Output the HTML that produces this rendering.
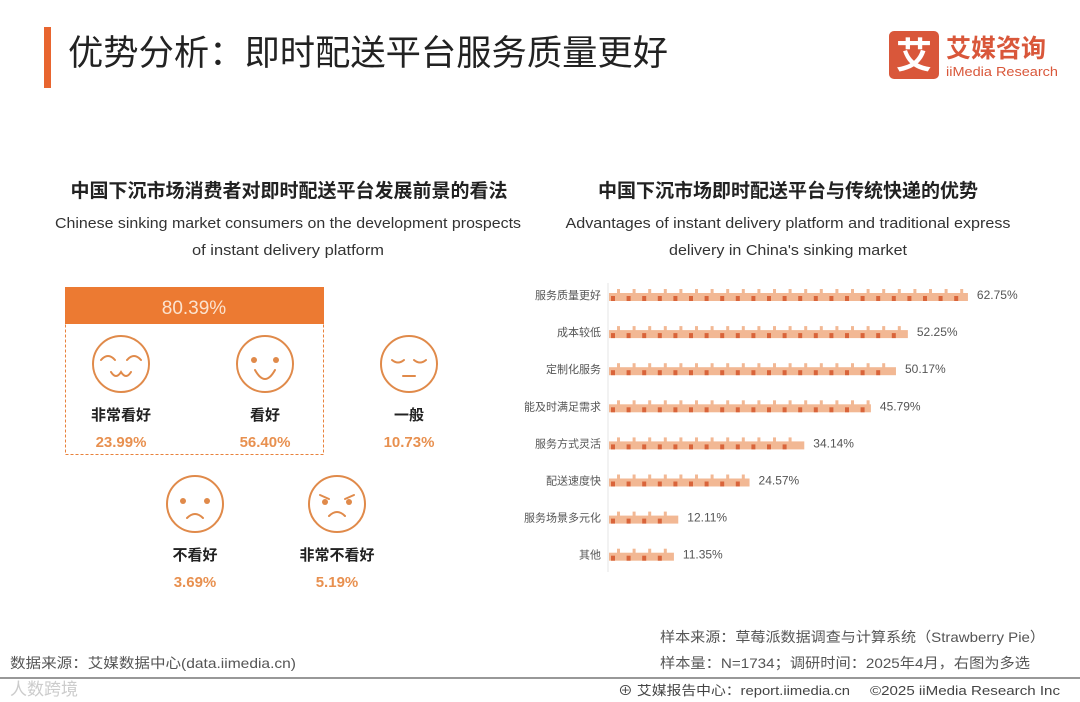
<!DOCTYPE html>
<html><head><meta charset="utf-8">
<style>
html,body{margin:0;padding:0;background:#fff;}
svg{display:block;font-family:"Liberation Sans","Noto Sans CJK SC",sans-serif;}
</style></head>
<body>
<svg id="chart" width="1080" height="702" viewBox="0 0 1080 702" xmlns="http://www.w3.org/2000/svg">
<rect x="44" y="27" width="7" height="61" fill="#e8652f"/>
<text x="68" y="65" font-size="35" fill="#222" textLength="600" lengthAdjust="spacingAndGlyphs">优势分析：即时配送平台服务质量更好</text>
<g>
<rect x="889" y="31" width="50" height="48" rx="5" fill="#d9573a"/>
<text x="914" y="68" font-size="36" font-weight="bold" fill="#fff" text-anchor="middle">艾</text>
<text x="946" y="57" font-size="25" font-weight="bold" fill="#d9573a">艾媒咨询</text>
<text x="946" y="76" font-size="13" fill="#d9573a" textLength="112" lengthAdjust="spacingAndGlyphs">iiMedia Research</text>
</g>
<text x="289" y="197" font-size="19" font-weight="bold" fill="#222" text-anchor="middle">中国下沉市场消费者对即时配送平台发展前景的看法</text>
<text x="288" y="228" font-size="15" fill="#333" text-anchor="middle" textLength="466" lengthAdjust="spacingAndGlyphs">Chinese sinking market consumers on the development prospects</text>
<text x="288" y="255" font-size="15" fill="#333" text-anchor="middle" textLength="192" lengthAdjust="spacingAndGlyphs">of instant delivery platform</text>
<text x="788" y="197" font-size="19" font-weight="bold" fill="#222" text-anchor="middle">中国下沉市场即时配送平台与传统快递的优势</text>
<text x="788" y="228" font-size="15" fill="#333" text-anchor="middle" textLength="445" lengthAdjust="spacingAndGlyphs">Advantages of instant delivery platform and traditional express</text>
<text x="788" y="255" font-size="15" fill="#333" text-anchor="middle" textLength="238" lengthAdjust="spacingAndGlyphs">delivery in China's sinking market</text>

<g>
<rect x="65.5" y="287.5" width="258" height="167" fill="none" stroke="#e8823c" stroke-dasharray="3,2"/>
<rect x="65" y="287" width="259" height="37" fill="#ec7a32"/>
<text x="194" y="314" font-size="19" fill="#fbe3cf" text-anchor="middle">80.39%</text>
</g>
<g id="faces"></g>
<g id="bars"></g>
<line x1="608" y1="283" x2="608" y2="572" stroke="#e6e6e6"/>

<g fill="#555">
<text x="660" y="642" font-size="14" textLength="385" lengthAdjust="spacingAndGlyphs">样本来源：草莓派数据调查与计算系统（Strawberry Pie）</text>
<text x="660" y="668" font-size="14" textLength="370" lengthAdjust="spacingAndGlyphs">样本量：N=1734；调研时间：2025年4月，右图为多选</text>
<text x="10" y="668" font-size="14" textLength="286" lengthAdjust="spacingAndGlyphs">数据来源：艾媒数据中心(data.iimedia.cn)</text>
<line x1="0" y1="678" x2="1080" y2="678" stroke="#777" stroke-width="1.5"/>
<text x="10" y="695" font-size="17" fill="#ccc">人数跨境</text>
<text x="618" y="695" font-size="13" fill="#444" textLength="232" lengthAdjust="spacingAndGlyphs">⊕ 艾媒报告中心：report.iimedia.cn</text>
<text x="870" y="695" font-size="13" fill="#444" textLength="190" lengthAdjust="spacingAndGlyphs">©2025  iiMedia Research  Inc</text>
</g>
</svg>
<script>
const ns="http://www.w3.org/2000/svg";
// Right chart data
const categories=["服务质量更好","成本较低","定制化服务","能及时满足需求","服务方式灵活","配送速度快","服务场景多元化","其他"];
const values=[62.75,52.25,50.17,45.79,34.14,24.57,12.11,11.35];
// Left chart data
const faceLabels=["非常看好","看好","一般","不看好","非常不看好"];
const faceValues=[23.99,56.40,10.73,3.69,5.19];

const x0=609, pxPer=5.72, yTop=295, rowStep=37.1;
const xs=v=>x0+v*pxPer;
const ys=i=>yTop+i*rowStep;
const bars=document.getElementById('bars');
function mk(tag,attrs,parent){const e=document.createElementNS(ns,tag);for(const k in attrs)e.setAttribute(k,attrs[k]);parent.appendChild(e);return e;}
categories.forEach((c,i)=>{
  const y=ys(i);
  const lab=mk('text',{x:601,y:y+4,'font-size':11,fill:'#555','text-anchor':'end'},bars);
  lab.textContent=c;
  
  
  const g=mk('g',{},bars);
  
  
  const w=xs(values[i])-x0;
  mk('rect',{x:x0,y:y-2,width:w,height:8,fill:'#f2b894'},g);
  const n=Math.floor(w/15.6);
  for(let k=0;k<=n;k++){
    const bx=x0+k*15.6;
    if(bx+9<x0+w){
      mk('rect',{x:bx+2,y:y+1,width:4,height:5,fill:'#d9643a'},g);
      mk('rect',{x:bx+8,y:y-6,width:3,height:5,fill:'#f2b894'},g);
    }
  }
  const t=mk('text',{x:xs(values[i])+9,y:y+4,'font-size':12,fill:'#555'},bars);
  t.textContent=values[i].toFixed(2)+'%';
  
  
});

// Faces
const faces=document.getElementById('faces');
const fpos=[[121,364],[265,364],[409,364],[195,504],[337,504]];
const C='#e08a4a';
faceLabels.forEach((l,i)=>{
  const [cx,cy]=fpos[i];
  const g=mk('g',{},faces);
  
  
  mk('circle',{cx:cx,cy:cy,r:28,fill:'none',stroke:C,'stroke-width':2},g);
  const p=d=>mk('path',{d:d,fill:'none',stroke:C,'stroke-width':2,'stroke-linecap':'round'},g);
  if(i===0){p(`M${cx-20} ${cy-4} q7 -8 14 0`);p(`M${cx+6} ${cy-4} q7 -8 14 0`);p(`M${cx-10} ${cy+8} q5 8 10 0 q5 8 10 0`);}
  if(i===1){mk('circle',{cx:cx-11,cy:cy-4,r:3,fill:C},g);mk('circle',{cx:cx+11,cy:cy-4,r:3,fill:C},g);p(`M${cx-10} ${cy+6} q10 18 20 0`);}
  if(i===2){p(`M${cx-17} ${cy-4} q6 5 12 0`);p(`M${cx+5} ${cy-4} q6 5 12 0`);p(`M${cx-6} ${cy+12} h12`);}
  if(i===3){mk('circle',{cx:cx-12,cy:cy-3,r:3,fill:C},g);mk('circle',{cx:cx+12,cy:cy-3,r:3,fill:C},g);p(`M${cx-8} ${cy+14} q8 -8 16 0`);}
  if(i===4){mk('circle',{cx:cx-12,cy:cy-2,r:3,fill:C},g);mk('circle',{cx:cx+12,cy:cy-2,r:3,fill:C},g);p(`M${cx-17} ${cy-9} l9 4`);p(`M${cx+17} ${cy-9} l-9 4`);p(`M${cx-8} ${cy+12} q8 -8 16 0`);}
  const t=mk('text',{x:cx,y:cy+56,'font-size':15,'font-weight':'bold',fill:'#222','text-anchor':'middle'},faces);
  t.textContent=l;
  
  
  const v=mk('text',{x:cx,y:cy+83,'font-size':15,'font-weight':'bold',fill:'#e8904f','text-anchor':'middle'},faces);
  v.textContent=faceValues[i].toFixed(2)+'%';
  
  
});
</script>
</body></html>
